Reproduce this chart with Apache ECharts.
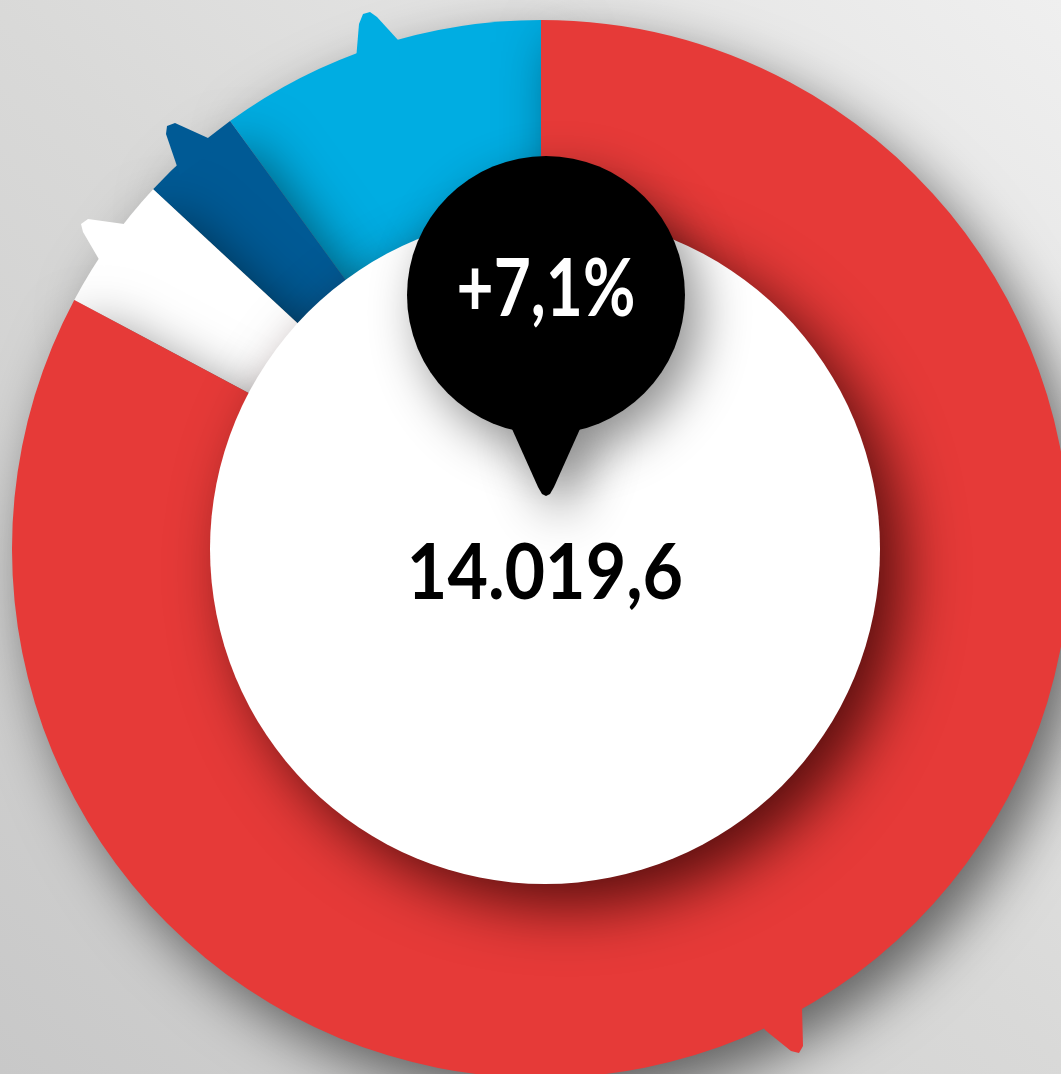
<!DOCTYPE html>
<html>
<head>
<meta charset="utf-8">
<script src="https://cdn.jsdelivr.net/npm/echarts@6/dist/echarts.min.js"></script>
<style>
  html, body { margin: 0; padding: 0; }
  #chart { width: 1061px; height: 1074px; }
</style>
</head>
<body>
<div id="chart"></div>
<script>
// shares of the ring, counter-clockwise from 12 o'clock
const segmentNames = ['cyan', 'darkblue', 'white', 'red'];
const segmentValues = [10.0, 3.1, 4.1, 82.8];
const segmentColors = ['#00ade2', '#005a95', '#ffffff', '#e63a38'];

const totalLabel = '14.019,6';
const changeLabel = '+7,1%';

const chart = echarts.init(document.getElementById('chart'), null, { renderer: 'canvas' });

const ringData = segmentNames.map(function (name, i) {
    return { name: name, value: segmentValues[i], itemStyle: { color: segmentColors[i] } };
});

const pinShadow = {
    shadowBlur: 50,
    shadowOffsetX: 14,
    shadowOffsetY: 18,
    shadowColor: 'rgba(0,0,0,0.45)'
};

// little hand-drawn tabs sticking out of the ring edge (decoration only)
const tabShapes = [
    { color: '#00ade2', points: [[356, 60], [359, 24], [363, 14], [370, 12], [377, 17], [398, 40], [400, 60]] },
    { color: '#005a95', points: [[180, 175], [166, 134], [167, 126], [175, 123], [208, 138], [215, 150]] },
    { color: '#ffffff', points: [[104, 268], [83, 232], [81, 224], [88, 219], [124, 224], [130, 240]] },
    { color: '#e63a38', points: [[760, 1020], [765, 1030], [791, 1051], [799, 1053], [803, 1046], [802, 1008], [790, 1000]] }
];

const options = {
    animation: false,
    backgroundColor: {
        type: 'linear', x: 0, y: 1, x2: 1, y2: 0,
        colorStops: [
            { offset: 0, color: '#c8c8c8' },
            { offset: 0.5, color: '#d9d9d8' },
            { offset: 1, color: '#efefef' }
        ]
    },
    series: [
        {
            type: 'pie',
            center: [541, 549],
            radius: [0, 529],
            startAngle: 90,
            clockwise: false,
            silent: true,
            z: 2,
            label: { show: false },
            labelLine: { show: false },
            itemStyle: {
                borderWidth: 0,
                shadowBlur: 55,
                shadowOffsetX: 16,
                shadowOffsetY: 22,
                shadowColor: 'rgba(0,0,0,0.55)'
            },
            data: ringData
        },
        {
            type: 'pie',
            center: [545, 549],
            radius: [0, 335],
            silent: true,
            z: 5,
            label: { show: false },
            labelLine: { show: false },
            itemStyle: {
                color: '#ffffff',
                borderWidth: 0,
                shadowBlur: 60,
                shadowOffsetX: 22,
                shadowOffsetY: 22,
                shadowColor: 'rgba(40,0,0,0.75)'
            },
            data: [{ name: 'total', value: 1 }]
        }
    ],
    graphic: tabShapes.map(function (t) {
        return {
            type: 'polygon',
            z: 3,
            shape: { points: t.points },
            style: { fill: t.color }
        };
    }).concat([
        {
            type: 'polygon',
            z: 100,
            shape: {
                points: [[508, 420], [538, 487], [542, 494], [546, 496], [550, 494], [554, 487], [584, 420]]
            },
            style: Object.assign({ fill: '#000000' }, pinShadow)
        },
        {
            type: 'circle',
            z: 100,
            shape: { cx: 546, cy: 295, r: 139 },
            style: Object.assign({ fill: '#000000' }, pinShadow)
        },
        {
            type: 'text',
            z: 101,
            x: 546,
            y: 290,
            scaleX: 0.8,
            style: {
                text: changeLabel,
                fill: '#ffffff',
                font: 'bold 80px Lato',
                align: 'center',
                verticalAlign: 'middle'
            }
        },
        {
            type: 'text',
            z: 101,
            x: 545,
            y: 574,
            scaleX: 0.92,
            style: {
                text: totalLabel,
                fill: '#000000',
                font: 'bold 76px Lato',
                align: 'center',
                verticalAlign: 'middle'
            }
        }
    ])
};

chart.setOption(options);
</script>
</body>
</html>
